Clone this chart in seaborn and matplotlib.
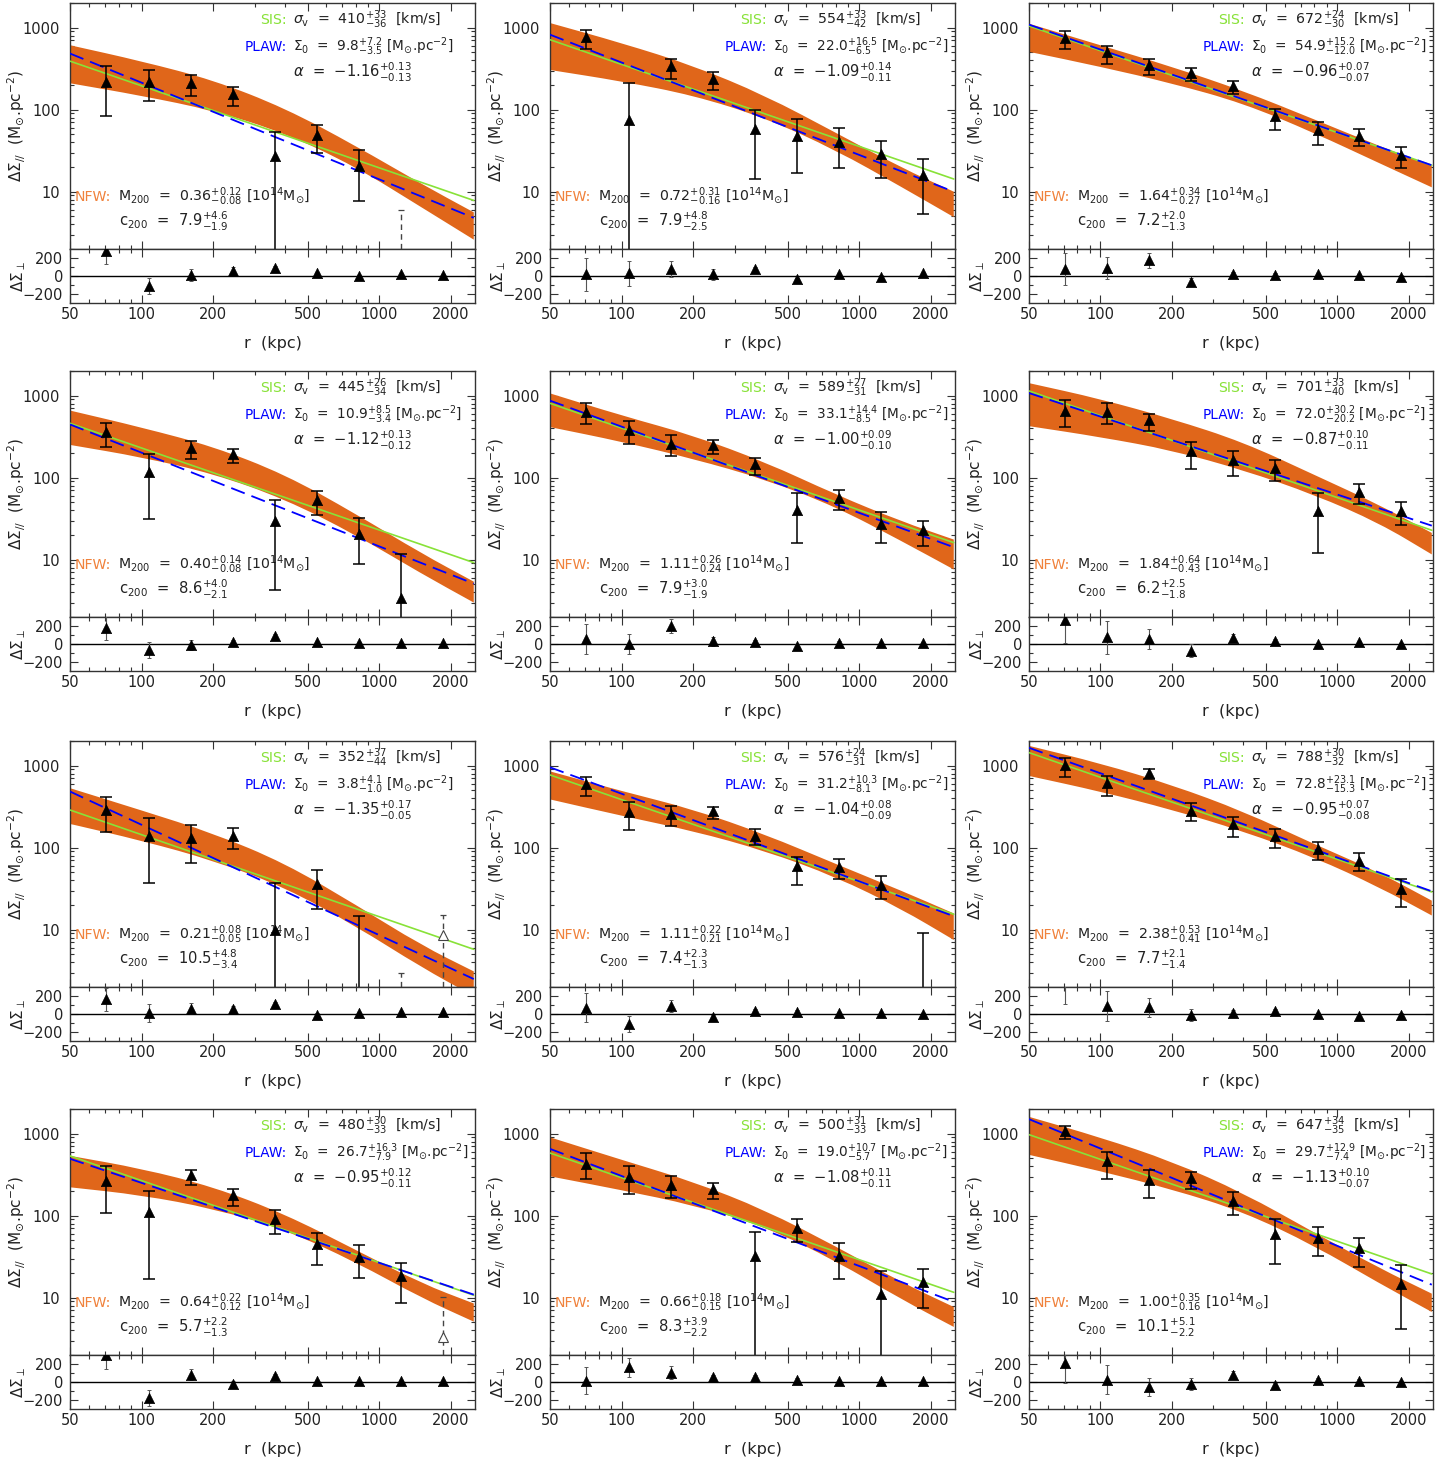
import math
import matplotlib
matplotlib.use("Agg")
import matplotlib.pyplot as plt
from matplotlib.path import Path
from matplotlib.patches import PathPatch
from matplotlib.ticker import FixedLocator, FixedFormatter, NullFormatter
import seaborn as sns

# ---------------------------------------------------------------- data
# radial bins (kpc)
R_KPC = [71, 107, 161, 242, 364, 546, 825, 1239, 1860]

# tangential profile Delta Sigma_// (Msun/pc^2), one row per cluster
DS_PAR = [
    [220, 220, 210, 155, 27, 49, 20.7, 1.0, 0.8],
    [771, 74, 341, 237, 58, 47.5, 40, 28.6, 15.9],
    [756, 499, 350, 278, 192, 83, 56, 47.5, 28.3],
    [360, 116, 233, 193, 30, 53, 20.8, 3.4, 0.8],
    [628, 378, 260, 248, 145, 40, 56, 27, 22.8],
    [659, 628, 499, 210, 164, 130, 38.8, 66, 39.5],
    [291, 137, 130, 138, 9.8, 36, 1.0, 1.0, 8.7],
    [600, 272, 260, 281, 140, 59, 58, 34.7, 1.0],
    [1019, 611, 807, 283, 192, 138, 95.5, 69, 31.3],
    [262, 111, 310, 178, 90, 45, 31.6, 18.6, 3.3],
    [430, 296, 239, 214, 31.9, 70, 32.5, 11.2, 15.5],
    [1077, 458, 275, 289, 150, 59, 53, 40, 14.8],
]
# upper end of each error bar
DS_PAR_HI = [
    [340, 302, 265, 188, 53, 65, 32, 5.9, 1.5],
    [929, 210, 414, 291, 100, 76, 59, 42, 25],
    [903, 600, 418, 325, 224, 103, 70, 58, 35.3],
    [467, 195, 283, 226, 54, 68, 32, 11.6, 1.5],
    [807, 490, 328, 288, 175, 65, 70, 38, 30],
    [895, 815, 594, 272, 214, 164, 65, 83, 51],
    [410, 231, 188, 175, 36.7, 54, 14.5, 3.0, 15.2],
    [729, 360, 322, 316, 168, 78, 72, 44.6, 9.0],
    [1250, 756, 903, 347, 237, 170, 118, 85, 42],
    [406, 199, 363, 214, 116, 62, 43.8, 26.7, 10.2],
    [578, 406, 305, 251, 63, 92, 46.7, 21, 22.4],
    [1250, 594, 363, 341, 195, 90, 73.6, 53, 25],
]
# lower end of each error bar
DS_PAR_LO = [
    [84, 128, 145, 112, 0.3, 30, 7.6, 0.3, 0.3],
    [557, 0.3, 235, 175, 14.2, 17.1, 19.7, 14.5, 5.4],
    [547, 360, 265, 222, 155, 56, 37, 36, 19.5],
    [237, 31, 170, 150, 4.3, 35, 8.8, 0.3, 0.3],
    [450, 255, 183, 193, 108, 16, 40, 15.8, 14.5],
    [414, 454, 374, 126, 106, 90, 12.2, 47.5, 26.2],
    [156, 36.7, 65, 95.5, 0.3, 18, 0.3, 0.3, 0.3],
    [425, 165, 184, 226, 108, 34.7, 42, 23.5, 0.3],
    [723, 429, 684, 210, 136, 100, 70, 52, 19],
    [107, 16.7, 239, 133, 60.5, 25, 17.5, 8.6, 0.3],
    [283, 184, 165, 161, 0.3, 48, 17, 0.3, 7.4],
    [853, 283, 165, 214, 101, 25.8, 31.9, 23.5, 4.1],
]
# bins with a negative tangential signal (|value| shown, dashed bar)
NEG_BINS = [[7, 8], [], [], [8], [], [], [7, 8], [], [], [8], [], []]

# cross component Delta Sigma_perp and its error
DS_PERP = [
    [275, -113, 8, 60, 87, 30, -4, 19, 8],
    [19, 30, 79, 19, 75, -38, 19, -8, 30],
    [75, 87, 174, -64, 19, 8, 19, 8, -8],
    [177, -68, -11, 19, 94, 19, 8, 11, 8],
    [57, 0, 196, 30, 23, -19, 15, 11, 11],
    [272, 75, 57, -75, 64, 34, 0, 19, -4],
    [162, 11, 57, 57, 106, -8, 11, 23, 19],
    [68, -113, 87, -38, 38, 26, 11, 11, 0],
    [370, 87, 75, -8, 11, 38, 0, -19, -8],
    [302, -181, 83, -19, 72, 10, 8, 10, 8],
    [15, 166, 102, 53, 60, 26, 8, 8, 8],
    [208, 26, -57, -19, 75, -30, 26, 15, -4],
]
DS_PERP_ERR = [
    [143, 91, 65, 40, 20, 20, 15, 15, 15],
    [185, 138, 90, 60, 30, 20, 15, 15, 15],
    [180, 120, 80, 47, 25, 20, 15, 15, 15],
    [132, 85, 60, 30, 20, 15, 15, 15, 15],
    [170, 111, 77, 47, 25, 15, 15, 15, 15],
    [264, 185, 115, 75, 45, 20, 15, 15, 15],
    [124, 102, 60, 30, 25, 15, 15, 15, 15],
    [160, 91, 66, 25, 20, 15, 15, 15, 15],
    [257, 170, 107, 66, 35, 20, 15, 15, 15],
    [155, 88, 66, 30, 20, 15, 15, 15, 15],
    [151, 106, 72, 25, 20, 15, 15, 15, 15],
    [219, 160, 100, 66, 47, 15, 15, 15, 15],
]

# SIS fit: velocity dispersion (km/s) with +/- errors
SIGMA_V = [410, 554, 672, 445, 589, 701, 352, 576, 788, 480, 500, 647]
SIGMA_V_ERR = [(33, 36), (33, 42), (24, 30), (26, 34), (27, 31), (33, 40),
               (37, 44), (24, 31), (30, 32), (30, 33), (31, 33), (34, 35)]
# power-law fit: normalisation and slope
PLAW_S0 = ["9.8", "22.0", "54.9", "10.9", "33.1", "72.0", "3.8", "31.2", "72.8", "26.7", "19.0", "29.7"]
PLAW_S0_ERR = [("7.2", "3.5"), ("16.5", "6.5"), ("15.2", "12.0"), ("8.5", "3.4"), ("14.4", "8.5"),
               ("30.2", "20.2"), ("4.1", "1.0"), ("10.3", "8.1"), ("23.1", "15.3"), ("16.3", "7.9"),
               ("10.7", "5.7"), ("12.9", "7.4")]
PLAW_ALPHA = ["-1.16", "-1.09", "-0.96", "-1.12", "-1.00", "-0.87", "-1.35", "-1.04", "-0.95", "-0.95", "-1.08", "-1.13"]
PLAW_ALPHA_ERR = [("0.13", "0.13"), ("0.14", "0.11"), ("0.07", "0.07"), ("0.13", "0.12"), ("0.09", "0.10"),
                  ("0.10", "0.11"), ("0.17", "0.05"), ("0.08", "0.09"), ("0.07", "0.08"), ("0.12", "0.11"),
                  ("0.11", "0.11"), ("0.10", "0.07")]
# power-law model evaluated at the radial limits of the plot
R_EDGE = [50, 2500]
PLAW_EDGE = [[484, 4.8], [822, 10.0], [1090, 21], [446, 5.1], [870, 14.2], [1077, 26],
             [484, 2.5], [955, 14.6], [1652, 29.4], [494, 10.9], [653, 8.9], [1504, 14.4]]
# NFW fit parameters
NFW_M200 = ["0.36", "0.72", "1.64", "0.40", "1.11", "1.84", "0.21", "1.11", "2.38", "0.64", "0.66", "1.00"]
NFW_M200_ERR = [("0.12", "0.08"), ("0.31", "0.16"), ("0.34", "0.27"), ("0.14", "0.08"), ("0.26", "0.24"),
                ("0.64", "0.43"), ("0.08", "0.05"), ("0.22", "0.21"), ("0.53", "0.41"), ("0.22", "0.12"),
                ("0.18", "0.15"), ("0.35", "0.16")]
NFW_C200 = ["7.9", "7.9", "7.2", "8.6", "7.9", "6.2", "10.5", "7.4", "7.7", "5.7", "8.3", "10.1"]
NFW_C200_ERR = [("4.6", "1.9"), ("4.8", "2.5"), ("2.0", "1.3"), ("4.0", "2.1"), ("3.0", "1.9"),
                ("2.5", "1.8"), ("4.8", "3.4"), ("2.3", "1.3"), ("2.1", "1.4"), ("2.2", "1.3"),
                ("3.9", "2.2"), ("5.1", "2.2")]
# NFW 68% confidence band (upper / lower envelope)
R_BAND = [50, 100, 200, 400, 800, 1500, 2500]
NFW_HI = [
    [611, 390, 230, 105, 36, 12.5, 5.6],
    [1140, 650, 345, 150, 52, 19.7, 10],
    [1118, 611, 334, 170, 76, 36, 20.7],
    [659, 410, 240, 110, 36, 12, 5.4],
    [1067, 573, 328, 156, 62, 29.4, 17.6],
    [1423, 912, 522, 272, 108, 46.7, 21.2],
    [532, 285, 150, 65, 20, 6.5, 3.1],
    [853, 490, 294, 146, 63, 30, 15.8],
    [1746, 1067, 583, 278, 110, 50, 22.6],
    [537, 375, 225, 105, 38, 15, 8.5],
    [903, 480, 260, 118, 42, 15.5, 7.7],
    [1606, 900, 460, 190, 62, 23, 11.2],
]
NFW_LO = [
    [210, 148, 98, 52, 20, 6.5, 2.6],
    [305, 222, 150, 80, 32, 11.5, 4.9],
    [508, 334, 210, 120, 52, 22.3, 11.3],
    [251, 178, 112, 55, 20, 6.8, 3.0],
    [414, 275, 170, 96, 44, 17, 7.6],
    [425, 313, 216, 124, 62, 28, 11.6],
    [195, 122, 70, 33, 11, 3.5, 1.55],
    [388, 245, 160, 92, 44, 18, 7.5],
    [750, 484, 291, 159, 76, 33, 14.9],
    [222, 178, 122, 68, 27, 10, 5.1],
    [302, 205, 135, 74, 28, 9.6, 4.4],
    [552, 350, 210, 112, 43, 15, 6.7],
]

G_PC = 4.3009e-3  # gravitational constant in pc Msun^-1 (km/s)^2

# ---------------------------------------------------------------- style
sns.set_theme(style="ticks")
plt.rcParams.update({
    "font.family": ["DejaVu Sans"],
    "mathtext.fontset": "dejavusans",
    "axes.edgecolor": "#333333",
    "axes.linewidth": 1.0,
    "xtick.direction": "in",
    "ytick.direction": "in",
    "xtick.color": "#333333",
    "ytick.color": "#333333",
    "xtick.labelcolor": "#222222",
    "ytick.labelcolor": "#222222",
})

C_SIS = "#88E238"
C_PLAW = "#0000FF"
C_NFW = "#E0661A"
C_NFW_TXT = "#F0823C"
TXT = "#222222"

W, H = 1453, 1468
COL_L = [70, 550, 1029]
COL_R = [475, 955, 1433]
ROW_T = [3, 371, 741, 1109]
ROW_M = [249, 617, 987, 1355]
ROW_B = [303, 671, 1041, 1409]

X_MAJ = [50, 100, 200, 500, 1000, 2000]
X_MIN = [60, 70, 80, 90, 300, 400, 600, 700, 800, 900]
Y_MAJ = [10, 100, 1000]
Y_MIN = [m * d for d in (1, 10, 100) for m in range(2, 10)] + [2000]


def pm(val, up, dn):
    return rf"${val}^{{+{up}}}_{{-{dn}}}$"


def style_ticks(ax):
    ax.tick_params(which="both", top=True, right=True, width=0.8)
    ax.tick_params(which="major", length=6)
    ax.tick_params(which="minor", length=3)


def smooth_edge(xs, ys):
    """Quadratic-Bezier outline through the given envelope samples (rounded corners)."""
    gm = lambda a, b: math.sqrt(a * b)  # midpoint on log axes
    verts = [(xs[0], ys[0]), (gm(xs[0], xs[1]), gm(ys[0], ys[1]))]
    codes = [Path.LINETO, Path.LINETO]
    for k in range(1, len(xs) - 1):
        verts += [(xs[k], ys[k]), (gm(xs[k], xs[k + 1]), gm(ys[k], ys[k + 1]))]
        codes += [Path.CURVE3, Path.CURVE3]
    verts.append((xs[-1], ys[-1]))
    codes.append(Path.LINETO)
    return verts, codes


def band_patch(xs, lo, hi, **kw):
    vu, cu = smooth_edge(xs, hi)
    vl, cl = smooth_edge(xs[::-1], lo[::-1])
    cu[0] = Path.MOVETO
    verts = vu + vl + [vu[0]]
    codes = cu + cl + [Path.CLOSEPOLY]
    return PathPatch(Path(verts, codes), **kw)


fig = plt.figure(figsize=(W / 100, H / 100), dpi=100)
fig.patch.set_facecolor("white")

for i in range(12):
    row, col = divmod(i, 3)
    l, r = COL_L[col], COL_R[col]
    t, m, b = ROW_T[row], ROW_M[row], ROW_B[row]
    ax = fig.add_axes([l / W, 1 - m / H, (r - l) / W, (m - t) / H])
    axr = fig.add_axes([l / W, 1 - b / H, (r - l) / W, (b - m) / H], sharex=ax)

    ax.set_xscale("log")
    ax.set_yscale("log")
    ax.set_xlim(50, 2530)
    ax.set_ylim(2, 2000)

    # NFW band
    ax.add_patch(band_patch(R_BAND, NFW_LO[i], NFW_HI[i], facecolor=C_NFW,
                            edgecolor="none", lw=0, zorder=1))

    # SIS model from the fitted velocity dispersion
    sis = [SIGMA_V[i] ** 2 / (2 * G_PC * rr * 1000.0) for rr in R_EDGE]
    sns.lineplot(x=R_EDGE, y=sis, ax=ax, color=C_SIS, lw=1.2, zorder=3)
    # power-law model
    sns.lineplot(x=R_EDGE, y=PLAW_EDGE[i], ax=ax, color=C_PLAW, lw=1.3,
                 linestyle=(0, (8, 4)), zorder=4)

    neg = NEG_BINS[i]
    pos_idx = [k for k in range(9) if k not in neg]
    xs = [R_KPC[k] for k in pos_idx]
    vs = [DS_PAR[i][k] for k in pos_idx]
    lo = [DS_PAR[i][k] - DS_PAR_LO[i][k] for k in pos_idx]
    hi = [DS_PAR_HI[i][k] - DS_PAR[i][k] for k in pos_idx]
    ax.errorbar(xs, vs, yerr=[lo, hi], fmt="none", ecolor="black",
                elinewidth=1.1, capsize=4, capthick=1.1, zorder=5)
    sns.scatterplot(x=xs, y=vs, ax=ax, marker="^", s=55, color="black",
                    edgecolor="black", linewidth=0.5, zorder=6)

    for k in neg:
        v = DS_PAR[i][k]
        eb = ax.errorbar([R_KPC[k]], [v], yerr=[[v - DS_PAR_LO[i][k]], [DS_PAR_HI[i][k] - v]],
                         fmt="none", ecolor="#444444", elinewidth=1.0, capsize=2,
                         capthick=0.9, zorder=5)
        eb[2][0].set_linestyle((0, (4, 3)))
        if v > 2:
            ax.plot([R_KPC[k]], [v], marker="^", ms=7, mfc="white", mec="#444444",
                    mew=0.8, ls="none", zorder=6)

    ax.xaxis.set_major_locator(FixedLocator(X_MAJ))
    ax.xaxis.set_minor_locator(FixedLocator(X_MIN))
    ax.yaxis.set_major_locator(FixedLocator(Y_MAJ))
    ax.yaxis.set_minor_locator(FixedLocator(Y_MIN))
    ax.yaxis.set_major_formatter(FixedFormatter(["10", "100", "1000"]))
    ax.yaxis.set_minor_formatter(NullFormatter())
    style_ticks(ax)
    ax.tick_params(axis="x", which="both", labelbottom=False)
    ax.tick_params(axis="y", labelsize=10.5, pad=7)
    ax.set_ylabel(r"$\Delta\Sigma_{//}$  (M$_{\odot}$.pc$^{-2}$)", fontsize=11, color=TXT)
    ax.yaxis.set_label_coords(-0.104, 0.5)

    # annotations
    fs = 10.2
    eq = "  =  "
    ax.text(0.535, 0.931, "SIS:", color=C_SIS, ha="right", va="center",
            transform=ax.transAxes, fontsize=fs)
    ax.text(0.55, 0.931, r"$\sigma_{\rm v}$" + eq + pm(SIGMA_V[i], *SIGMA_V_ERR[i]) + "  [km/s]",
            color=TXT, ha="left", va="center", transform=ax.transAxes, fontsize=fs)
    ax.text(0.535, 0.822, "PLAW:", color=C_PLAW, ha="right", va="center",
            transform=ax.transAxes, fontsize=fs - 0.4)
    ax.text(0.55, 0.822, r"$\Sigma_0$" + eq + pm(PLAW_S0[i], *PLAW_S0_ERR[i])
            + r" [M$_{\odot}$.pc$^{-2}$]",
            color=TXT, ha="left", va="center", transform=ax.transAxes, fontsize=fs - 0.4)
    ax.text(0.55, 0.717, r"$\alpha$" + eq + pm(PLAW_ALPHA[i], *PLAW_ALPHA_ERR[i]),
            color=TXT, ha="left", va="center", transform=ax.transAxes, fontsize=fs + 0.4)
    ax.text(0.101, 0.213, "NFW:", color=C_NFW_TXT, ha="right", va="center",
            transform=ax.transAxes, fontsize=fs)
    ax.text(0.118, 0.213, r"M$_{200}$" + eq + pm(NFW_M200[i], *NFW_M200_ERR[i])
            + r" [10$^{14}$M$_{\odot}$]",
            color=TXT, ha="left", va="center", transform=ax.transAxes, fontsize=fs)
    ax.text(0.12, 0.112, r"c$_{200}$" + eq + pm(NFW_C200[i], *NFW_C200_ERR[i]),
            color=TXT, ha="left", va="center", transform=ax.transAxes, fontsize=fs + 0.4)

    # cross-component panel
    axr.set_ylim(-300, 300)
    axr.axhline(0, color="black", lw=1.0, zorder=2)
    pe = DS_PERP_ERR[i]
    axr.errorbar(R_KPC, DS_PERP[i], yerr=pe, fmt="none", ecolor="#555555",
                 elinewidth=0.8, capsize=1.5, capthick=0.7, zorder=3)
    sns.scatterplot(x=R_KPC, y=DS_PERP[i], ax=axr, marker="^", s=55, color="black",
                    edgecolor="black", linewidth=0.5, zorder=4)
    axr.set_xscale("log")
    axr.set_xlim(50, 2530)
    axr.xaxis.set_major_locator(FixedLocator(X_MAJ))
    axr.xaxis.set_minor_locator(FixedLocator(X_MIN))
    axr.xaxis.set_major_formatter(FixedFormatter([str(v) for v in X_MAJ]))
    axr.xaxis.set_minor_formatter(NullFormatter())
    axr.yaxis.set_major_locator(FixedLocator([-200, 0, 200]))
    axr.yaxis.set_minor_locator(FixedLocator([-100, 100]))
    axr.yaxis.set_major_formatter(FixedFormatter(["\u2212200", "0", "200"]))
    style_ticks(axr)
    axr.tick_params(axis="x", labelsize=10.5, pad=3)
    axr.tick_params(axis="y", labelsize=10.5, pad=5)
    axr.set_ylabel(r"$\Delta\Sigma_{\perp}$", fontsize=11, color=TXT)
    axr.yaxis.set_label_coords(-0.104, 0.5)
    axr.set_xlabel("r  (kpc)", fontsize=11.5, color=TXT)
    axr.xaxis.set_label_coords(0.5, -0.62)

fig.savefig("out.png", dpi=100, facecolor="white")
